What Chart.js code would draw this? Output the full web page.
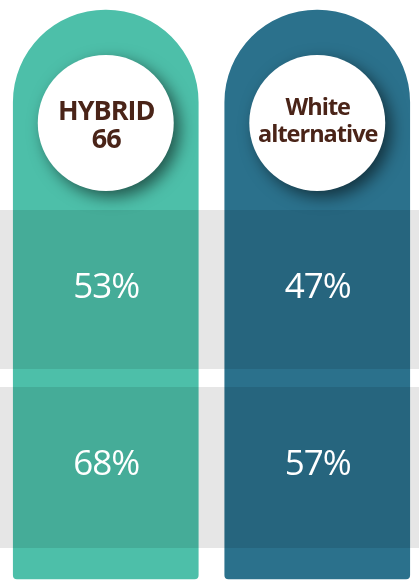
<!DOCTYPE html>
<html>
<head>
<meta charset="utf-8">
<script src="https://cdn.jsdelivr.net/npm/chart.js@4/dist/chart.umd.min.js"></script>
<style>
  html, body { margin: 0; padding: 0; background: #ffffff; overflow: hidden; width: 419px; height: 580px; }
  #wrap { width: 423px; height: 580px; }
</style>
</head>
<body>
<div id="wrap"><canvas id="c" width="423" height="580"></canvas></div>
<script>
// ---- data ----
const categories = ['HYBRID 66', 'White alternative'];
const categoryLines = [['HYBRID', '66'], ['White', 'alternative']];
const row1Values = [53, 47];
const row2Values = [68, 57];
const rowValues = [row1Values, row2Values];

// ---- styles / layout (in scale units) ----
const colors = ['#4dbfa9', '#2b718c'];
const headColor = '#4a2418';
const pillarSpan = [10, 579];
const bandSpans = [[210, 369], [387, 548]];
const circleCenterY = 123;
const circleRadius = 68;
const headFonts = [
  { size: 27, baselines: [119.5, 147.5] },
  { size: 23.5, baselines: [115, 141.8] }
];
const percentBaselineOffset = [8.8, 7];

function centeredText(ctx, text, x, y, spacing) {
  // draw text centred, compensating the trailing letter spacing
  ctx.fillText(text, x - spacing / 2, y);
}

const overlayPlugin = {
  id: 'overlay',
  afterDatasetsDraw(chart) {
    const ctx = chart.ctx;
    const area = chart.chartArea;
    const y = chart.scales.y;
    const meta = chart.getDatasetMeta(0);
    ctx.save();
    // grey row bands (translucent, over the pillars)
    ctx.fillStyle = 'rgba(0,0,0,0.098)';
    bandSpans.forEach(([a, b]) => {
      const ya = y.getPixelForValue(a), yb = y.getPixelForValue(b);
      ctx.fillRect(area.left, ya, area.right - area.left, yb - ya);
    });
    // circles with shadow
    meta.data.forEach((bar, i) => {
      const cy = y.getPixelForValue(circleCenterY);
      ctx.save();
      ctx.shadowColor = 'rgba(0,0,0,0.55)';
      ctx.shadowBlur = 16;
      ctx.shadowOffsetX = 6;
      ctx.shadowOffsetY = 6;
      ctx.beginPath();
      ctx.arc(bar.x, cy, circleRadius, 0, Math.PI * 2);
      ctx.fillStyle = '#ffffff';
      ctx.fill();
      ctx.restore();
      // heading text
      const f = headFonts[i];
      ctx.save();
      ctx.fillStyle = headColor;
      ctx.font = 'bold ' + f.size + 'px "Open Sans", sans-serif';
      ctx.letterSpacing = '-1px';
      ctx.textAlign = 'center';
      ctx.textBaseline = 'alphabetic';
      categoryLines[i].forEach((line, k) => {
        centeredText(ctx, line, bar.x, y.getPixelForValue(f.baselines[k]), -1);
      });
      ctx.restore();
    });
    // percentage values
    ctx.fillStyle = '#ffffff';
    ctx.font = '35px "Open Sans", sans-serif';
    ctx.letterSpacing = '-1px';
    ctx.textAlign = 'center';
    ctx.textBaseline = 'alphabetic';
    rowValues.forEach((vals, r) => {
      const [a, b] = bandSpans[r];
      const cy = y.getPixelForValue((a + b) / 2) + percentBaselineOffset[r];
      vals.forEach((v, i) => {
        centeredText(ctx, v + '%', meta.data[i].x, cy, -1);
      });
    });
    ctx.restore();
  }
};

new Chart(document.getElementById('c'), {
  type: 'bar',
  data: {
    labels: categories,
    datasets: [{
      data: categories.map(() => pillarSpan.slice()),
      backgroundColor: colors,
      borderWidth: 0,
      borderSkipped: false,
      borderRadius: { topLeft: 93, topRight: 93, bottomLeft: 4, bottomRight: 4 },
      barThickness: 185
    }]
  },
  options: {
    responsive: false,
    animation: false,
    events: [],
    layout: { padding: 0 },
    plugins: { legend: { display: false }, tooltip: { enabled: false } },
    scales: {
      x: { display: false, offset: true },
      y: { display: false, min: 0, max: 580, reverse: true }
    }
  },
  plugins: [overlayPlugin]
});
</script>
</body>
</html>
